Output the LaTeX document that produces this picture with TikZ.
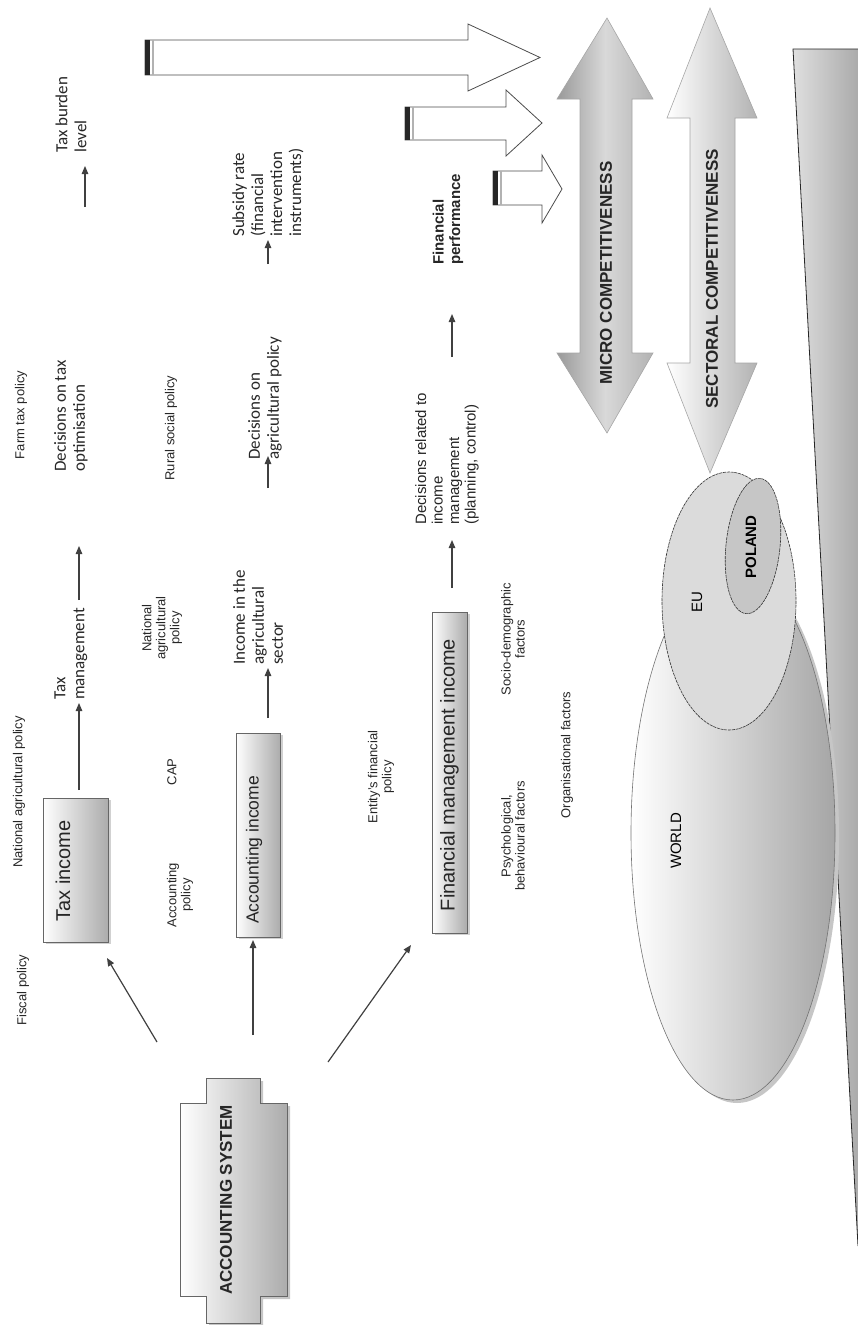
\documentclass[tikz,border=0pt]{standalone}
\usepackage{fontspec}
\setmainfont{Liberation Sans}
\newfontfamily\calfont{Carlito}
\usetikzlibrary{arrows.meta,shadows}
\begin{document}
\begin{tikzpicture}[x=1pt,y=-1pt,
  lbl/.style={rotate=90, font=\fontsize{13}{14}\selectfont, text=black!85, align=center, inner sep=0pt},
  cal/.style={rotate=90, font=\calfont\fontsize{17}{19}\selectfont, text=black!85, align=left, anchor=west, inner sep=0pt},
  ari/.style={rotate=90, font=\fontsize{15}{16.5}\selectfont, text=black!85, align=left, anchor=west, inner sep=0pt},
  arr/.style={draw=black!75, line width=1.2pt, -{Triangle[length=8pt,width=6.5pt]}},
  box/.style={draw=black!60, line width=0.8pt, left color=white, right color=gray!65, inner sep=0pt,
    drop shadow={shadow xshift=3pt, shadow yshift=-2pt, fill=gray!45, opacity=0.8}},
  boxtext/.style={rotate=90, inner sep=0pt, text=black!85},
  hollow/.style={draw=black!70, line width=0.8pt, fill=white},
  dbl/.style={draw=gray!70, line width=0.6pt},
  bigtext/.style={rotate=90, font=\bfseries\fontsize{17}{17}\selectfont, text=black!85, inner sep=0pt}
]
\useasboundingbox (0,0) rectangle (858,1325);

% ---- wedge at right ----
\shade[left color=gray!25, right color=gray!80] (793,49) -- (880,49) -- (880,1246) -- (858,1246) -- cycle;
\draw[black!85, line width=0.8pt] (880,49) -- (793,49) -- (858,1246);

% ---- hollow input arrows ----
\path[hollow] (145,40) -- (468,40) -- (468,24) -- (540,57.5) -- (468,91) -- (468,75) -- (145,75) -- cycle;
\fill[black!85] (145,40) rectangle (150,75);
\fill[gray!60] (151.5,40) rectangle (153.5,75);
\path[hollow] (405,107) -- (506,107) -- (506,90) -- (542,123) -- (506,156) -- (506,140) -- (405,140) -- cycle;
\fill[black!85] (405,107) rectangle (410,140);
\fill[gray!60] (411.5,107) rectangle (413.5,140);
\path[hollow] (493,171) -- (542,171) -- (542,155) -- (562,189) -- (542,223) -- (542,205) -- (493,205) -- cycle;
\fill[black!85] (493,171) rectangle (498,205);
\fill[gray!60] (499.5,171) rectangle (501.5,205);

% ---- double arrows ----
\path[dbl, left color=gray!80, right color=gray!60, middle color=gray!30]
  (607,18) -- (653,99) -- (632,99) -- (632,353) -- (653,353) -- (607,433) -- (557,353) -- (580,353) -- (580,99) -- (557,99) -- cycle;
\node[bigtext] (micro) at (606,273) {MICRO COMPETITIVENESS};
\path[dbl, left color=white, right color=gray!60]
  (710,8) -- (757,118) -- (735,118) -- (735,363) -- (757,363) -- (710,473) -- (667,363) -- (690,363) -- (690,118) -- (667,118) -- cycle;
\node[bigtext] (sect) at (712,279) {SECTORAL COMPETITIVENESS};

% ---- ellipses ----
\fill[gray!45] (737,836) ellipse [x radius=102, y radius=267];
\shade[left color=white, right color=gray!70] (733,833) ellipse [x radius=102, y radius=267];
\draw[gray!90!black, line width=0.6pt] (733,833) ellipse [x radius=102, y radius=267];
\node[rotate=90, font=\fontsize{15}{15}\selectfont, inner sep=0pt] (world) at (676,841) {WORLD};
\draw[black!80, line width=0.6pt, dash pattern=on 3pt off 0.8pt, fill=gray!28] (729,601) ellipse [x radius=67, y radius=129];
\node[rotate=90, font=\fontsize{15}{15}\selectfont, inner sep=0pt] (eu) at (697,602) {EU};
\draw[black!80, line width=0.6pt, dash pattern=on 3pt off 0.8pt, fill=gray!45, rotate around={-6:(753,546)}] (753,546) ellipse [x radius=27, y radius=68];
\node[rotate=90, font=\bfseries\fontsize{15}{15}\selectfont, inner sep=0pt] (poland) at (751,547) {POLAND};

% ---- accounting system ----
\fill[gray!45] (209,1081) -- (263,1081) -- (263,1106) -- (290,1106) -- (290,1299) -- (263,1299) -- (263,1326) -- (209,1326) -- cycle;
\path[draw=black!60, line width=0.8pt, left color=white, right color=gray!65]
  (206,1078) -- (260,1078) -- (260,1103) -- (287,1103) -- (287,1296) -- (260,1296) -- (260,1323) -- (206,1323) -- (206,1296) -- (180,1296) -- (180,1103) -- (206,1103) -- cycle;
\node[bigtext] (acc) at (226,1200) {ACCOUNTING SYSTEM};

% ---- boxes ----
\node[box, minimum width=65pt, minimum height=144pt] (taxbox) at (75.5,870) {};
\node[boxtext, font=\fontsize{20}{20}\selectfont] (taxtxt) at (63,871) {Tax income};
\node[box, minimum width=44pt, minimum height=204pt] (accbox) at (258,835) {};
\node[boxtext, font=\fontsize{17.5}{17.5}\selectfont] (acctxt) at (254,850) {Accounting income};
\node[box, minimum width=35pt, minimum height=321pt] (fmbox) at (449.5,772.5) {};
\node[boxtext, font=\fontsize{20}{20}\selectfont] (fmtxt) at (449.5,775) {Financial management income};

% ---- small labels ----
\node[lbl] (fiscal) at (23,990) {Fiscal policy};
\node[lbl] (natagr) at (19,792) {National agricultural policy};
\node[lbl] (farmtax) at (21,415) {Farm tax policy};
\node[lbl] (accpol) at (180,895) {Accounting\\policy};
\node[lbl] (cap) at (172,772) {CAP};
\node[lbl] (natagr2) at (162,628) {National\\agricultural\\policy};
\node[lbl] (rural) at (171,428) {Rural social policy};
\node[lbl] (entity) at (381,777) {Entity's financial\\policy};
\node[lbl] (socio) at (513,639) {Socio-demographic\\factors};
\node[lbl] (psych) at (513,836) {Psychological,\\behavioural factors};
\node[lbl] (org) at (567,755) {Organisational factors};

% ---- outcome texts ----
\node[cal] (taxman) at (71,700) {Tax\\management};
\node[cal] (decTax) at (71,472) {Decisions on tax\\optimisation};
\node[cal] (burden) at (71,153) {Tax burden\\level};
\node[cal] (incAgr) at (258,665) {Income in the\\agricultural\\sector};
\node[cal] (decAgr) at (265,460) {Decisions on\\agricultural policy};
\node[cal] (subsidy) at (268,237) {Subsidy rate\\(financial\\intervention\\instruments)};
\node[ari] (decFin) at (447,525) {Decisions related to\\income\\management\\(planning, control)};
\node[ari, font=\bfseries\fontsize{15}{16.5}\selectfont] (finperf) at (448,265) {Financial\\performance};

% ---- connectors ----
\coordinate (s1) at (157,1042); \coordinate (e1) at (107,958);
\coordinate (s2) at (253,1035); \coordinate (e2) at (253,940);
\coordinate (s3) at (328,1062); \coordinate (e3) at (411,945);
\draw[arr] (s1) -- (e1);
\draw[arr] (s2) -- (e2);
\draw[arr] (s3) -- (e3);
\coordinate (t1) at (79,790); \coordinate (t2) at (79,703);
\draw[arr] (t1) -- (t2);
\coordinate (t3) at (79,600); \coordinate (t4) at (79,546);
\draw[arr] (t3) -- (t4);
\coordinate (t5) at (85,207); \coordinate (t6) at (85,166);
\draw[arr] (t5) -- (t6);
\coordinate (a1) at (268,718); \coordinate (a2) at (268,668);
\draw[arr] (a1) -- (a2);
\coordinate (a3) at (268,488); \coordinate (a4) at (268,456);
\draw[arr] (a3) -- (a4);
\coordinate (a5) at (268,264); \coordinate (a6) at (268,240);
\draw[arr] (a5) -- (a6);
\coordinate (f1) at (452,588); \coordinate (f2) at (452,540);
\draw[arr] (f1) -- (f2);
\coordinate (f3) at (452,357); \coordinate (f4) at (452,314);
\draw[arr] (f3) -- (f4);
\end{tikzpicture}
\end{document}
